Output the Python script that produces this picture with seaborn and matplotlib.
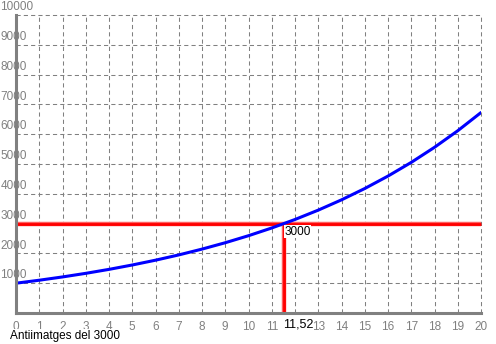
import matplotlib
matplotlib.use("Agg")
import matplotlib.pyplot as plt
import matplotlib.transforms as mtransforms
import seaborn as sns
import pandas as pd

# Data
x_vals = [0, 1, 2, 3, 4, 5, 6, 7, 8, 9, 10, 11, 12, 13, 14, 15, 16, 17, 18, 19, 20]
y_vals = [1000, 1100, 1210, 1331, 1464, 1611, 1772, 1949, 2144, 2358, 2594,
          2853, 3138, 3452, 3797, 4177, 4595, 5054, 5560, 6116, 6727]
x_ticks = list(range(0, 21))
y_ticks = [1000, 2000, 3000, 4000, 5000, 6000, 7000, 8000, 9000, 10000]
target_y = 3000
target_x = 11.52
title_text = "Antiimatges del 3000"
target_x_label = "11,52"
target_y_label = "3000"

sns.set_style("white")
plt.rcParams['font.family'] = ['Liberation Sans', 'DejaVu Sans']

fig = plt.figure(figsize=(4.96, 3.44), dpi=100)
W, H = 496, 344
ax = fig.add_axes([16 / W, 31 / H, 465 / W, 298 / H])

df = pd.DataFrame({"x": x_vals, "y": y_vals})

ax.set_xlim(0, 20)
ax.set_ylim(0, 10000)

# grid
grey = "#808080"
for xv in x_ticks[1:]:
    ax.axvline(xv, color=grey, lw=0.75, ls=(0, (4, 3)), clip_on=False, zorder=1)
for yv in y_ticks:
    ax.axhline(yv, color=grey, lw=0.75, ls=(0, (4, 3)), clip_on=False, zorder=1)

# red guide lines
ax.plot([0, 20], [target_y, target_y], color="#ff6060", lw=3.2, solid_capstyle="butt", zorder=2, clip_on=False)
ax.plot([0, 20], [target_y, target_y], color="red", lw=2.0, solid_capstyle="butt", zorder=2, clip_on=False)
ax.plot([target_x, target_x], [0, target_y], color="#ff6060", lw=3.2, solid_capstyle="butt", zorder=2)
ax.plot([target_x, target_x], [0, target_y], color="red", lw=2.0, solid_capstyle="butt", zorder=2)

# curve
sns.lineplot(data=df, x="x", y="y", ax=ax, color="#0000ff", lw=2.2, zorder=3)

# spines
for s in ["top", "right"]:
    ax.spines[s].set_visible(False)
for s in ["left", "bottom"]:
    ax.spines[s].set_color(grey)
    ax.spines[s].set_linewidth(2.2)
    ax.spines[s].set_zorder(4)

ax.set_xlabel("")
ax.set_ylabel("")
ax.set_xticks(x_ticks)
ax.set_xticklabels([str(v) for v in x_ticks], color=grey, fontsize=8.5)
ax.tick_params(axis="x", length=0, pad=6)
ax.set_yticks([])

# y tick labels: left of figure, sitting on top of gridline
trans = mtransforms.blended_transform_factory(fig.transFigure, ax.transData)
for yv in y_ticks:
    ax.text(0.5 / W, yv + 60, str(yv), transform=trans, ha="left", va="bottom",
            color=grey, fontsize=8.5, clip_on=False, zorder=0)

# annotations
ax.text(target_x + 0.02, target_y - 70, target_y_label, ha="left", va="top", color="black",
        fontsize=8.5, zorder=5,
        bbox=dict(boxstyle="square,pad=0.05", fc="white", ec="none"))
ax.text(target_x - 0.02, -170, target_x_label, ha="left", va="top", color="black",
        fontsize=9, zorder=5, clip_on=False,
        bbox=dict(boxstyle="square,pad=0.05", fc="white", ec="none"))
fig.text(10 / W, 2 / H, title_text, ha="left", va="bottom", color="black", fontsize=8.5,
         bbox=dict(boxstyle="square,pad=0.05", fc="white", ec="none"), zorder=10)

fig.savefig("out.png", dpi=100)
